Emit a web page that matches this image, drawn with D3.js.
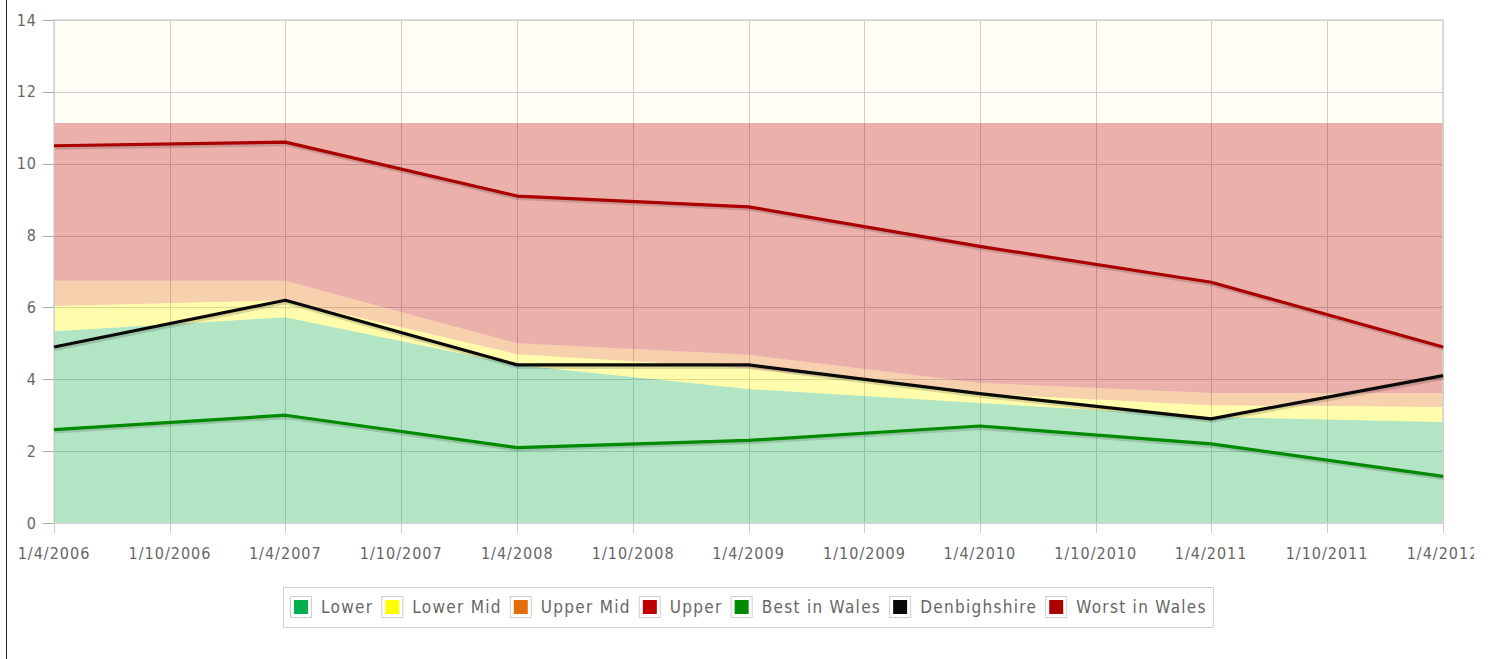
<!DOCTYPE html>
<html>
<head>
<meta charset="utf-8">
<script src="https://cdn.jsdelivr.net/npm/d3@7"></script>
<style>
  html, body { margin: 0; padding: 0; background: #fff; }
  #wrap { position: absolute; left: 0; top: 0; width: 1474px; height: 659px; overflow: hidden; }
  #edge { position: absolute; left: 6px; top: 0; width: 1px; height: 659px; background: #222; }
  text { font-family: "DejaVu Sans Condensed", "DejaVu Sans", sans-serif; fill: #666; }
</style>
</head>
<body>
<div id="wrap"></div>
<div id="edge"></div>
<script>
// dates of the data points (d/m/yyyy)
var dates = ["1/4/2006", "1/4/2007", "1/4/2008", "1/4/2009", "1/4/2010", "1/4/2011", "1/4/2012"];
var tickLabels = ["1/4/2006", "1/10/2006", "1/4/2007", "1/10/2007", "1/4/2008", "1/10/2008",
    "1/4/2009", "1/10/2009", "1/4/2010", "1/10/2010", "1/4/2011", "1/10/2011", "1/4/2012"];
var yTicks = [0, 2, 4, 6, 8, 10, 12, 14];

// stacked bands (each value is the band's own height)
var lower    = [5.34, 5.73, 4.40, 3.73, 3.34, 2.95, 2.81];
var lowerMid = [0.70, 0.47, 0.30, 0.58, 0.26, 0.33, 0.42];
var upperMid = [0.70, 0.54, 0.30, 0.37, 0.30, 0.34, 0.39];
var upper    = [4.39, 4.39, 6.13, 6.45, 7.23, 7.51, 7.51];

// lines
var best         = [2.6, 3.0, 2.1, 2.3, 2.7, 2.2, 1.3];
var denbighshire = [4.9, 6.2, 4.4, 4.4, 3.6, 2.9, 4.1];
var worst        = [10.5, 10.6, 9.1, 8.8, 7.7, 6.7, 4.9];

var bandNames = ["Lower", "Lower Mid", "Upper Mid", "Upper"];
var bandColors = ["#00b050", "#ffff00", "#e46c0a", "#c00000"];
var lineNames = ["Best in Wales", "Denbighshire", "Worst in Wales"];
var lineColors = ["#008a00", "#0a0a0a", "#aa0000"];

var parse = d3.timeParse("%d/%m/%Y");
var plotL = 54, plotR = 1443, plotT = 20, plotB = 523;

var svg = d3.select("#wrap").append("svg")
    .attr("width", 1474)
    .attr("height", 659);

var x = d3.scaleTime()
    .domain([parse(dates[0]), parse(dates[dates.length - 1])])
    .range([plotL, plotR]);
var y = d3.scaleLinear()
    .domain([0, 14])
    .range([plotB, plotT]);

// plot background
svg.append("rect")
    .attr("x", plotL).attr("y", plotT)
    .attr("width", plotR - plotL).attr("height", plotB - plotT)
    .attr("fill", "#fffdf5");

// grid
svg.append("g").selectAll("line")
    .data(tickLabels)
    .enter().append("line")
    .attr("x1", d => Math.round(x(parse(d))) + 0.5).attr("x2", d => Math.round(x(parse(d))) + 0.5)
    .attr("y1", plotT).attr("y2", plotB)
    .attr("stroke", "#cccccc");
svg.append("g").selectAll("line")
    .data(yTicks)
    .enter().append("line")
    .attr("x1", plotL).attr("x2", plotR)
    .attr("y1", d => Math.round(y(d)) + 0.5).attr("y2", d => Math.round(y(d)) + 0.5)
    .attr("stroke", "#cccccc");

// stacked areas
var table = dates.map((d, i) => ({
    date: parse(d), "Lower": lower[i], "Lower Mid": lowerMid[i],
    "Upper Mid": upperMid[i], "Upper": upper[i]
}));
var stacked = d3.stack().keys(bandNames)(table);
var area = d3.area()
    .x(d => x(d.data.date))
    .y0(d => y(d[0]))
    .y1(d => y(d[1]));
svg.append("g").selectAll("path")
    .data(stacked)
    .enter().append("path")
    .attr("d", area)
    .attr("fill", (d, i) => bandColors[i])
    .attr("fill-opacity", 0.3);

// plot border
svg.append("rect")
    .attr("x", plotL).attr("y", plotT)
    .attr("width", plotR - plotL).attr("height", plotB - plotT)
    .attr("fill", "none")
    .attr("stroke", "#d4d4d4")
    .attr("stroke-width", 1.5);

// lines with a soft shadow
var lineData = [best, denbighshire, worst];
var line = d3.line()
    .x((d, i) => x(parse(dates[i])))
    .y(d => y(d));
var lines = svg.append("g");
lineData.forEach(function (vals, k) {
    lines.append("path")
        .attr("d", line(vals))
        .attr("transform", "translate(1,1.5)")
        .attr("fill", "none")
        .attr("stroke", "#000")
        .attr("stroke-opacity", 0.15)
        .attr("stroke-width", 5)
        .attr("stroke-linejoin", "round");
    lines.append("path")
        .attr("d", line(vals))
        .attr("fill", "none")
        .attr("stroke", lineColors[k])
        .attr("stroke-width", 3.2)
        .attr("stroke-linejoin", "round");
});

// y axis
var yAxis = svg.append("g");
yAxis.selectAll("line")
    .data(yTicks)
    .enter().append("line")
    .attr("x1", plotL - 11).attr("x2", plotL)
    .attr("y1", d => Math.round(y(d)) + 0.5).attr("y2", d => Math.round(y(d)) + 0.5)
    .attr("stroke", "#aaa");
yAxis.selectAll("text")
    .data(yTicks)
    .enter().append("text")
    .attr("x", 37).attr("y", d => y(d))
    .attr("dy", "0.35em")
    .attr("text-anchor", "end")
    .attr("font-size", 16)
    .attr("letter-spacing", 1)
    .text(d => d);

// x axis
var xAxis = svg.append("g");
xAxis.selectAll("line")
    .data(tickLabels)
    .enter().append("line")
    .attr("x1", d => Math.round(x(parse(d))) + 0.5).attr("x2", d => Math.round(x(parse(d))) + 0.5)
    .attr("y1", plotB).attr("y2", plotB + 10)
    .attr("stroke", "#ccc");
xAxis.selectAll("text")
    .data(tickLabels)
    .enter().append("text")
    .attr("x", d => x(parse(d))).attr("y", 559)
    .attr("text-anchor", "middle")
    .attr("font-size", 16)
    .attr("letter-spacing", 1)
    .text(d => d);

// legend
var legendItems = bandNames.map((n, i) => ({ name: n, color: bandColors[i] }))
    .concat(lineNames.map((n, i) => ({ name: n, color: lineColors[i] })));
var legend = svg.append("g");
var legendBox = legend.append("rect")
    .attr("y", 587.5).attr("height", 40)
    .attr("fill", "#fff")
    .attr("stroke", "#d0d0d0");
var lx = 290;
legendItems.forEach(function (it) {
    legend.append("rect")
        .attr("x", lx + 0.5).attr("y", 596.5)
        .attr("width", 21).attr("height", 21)
        .attr("fill", "#fff").attr("stroke", "#cfcfcf");
    legend.append("rect")
        .attr("x", lx + 4).attr("y", 600)
        .attr("width", 14).attr("height", 14)
        .attr("fill", it.color);
    var t = legend.append("text")
        .attr("x", lx + 31).attr("y", 613)
        .attr("font-size", 17)
        .attr("letter-spacing", 1.3)
        .text(it.name);
    lx += 31 + t.node().getComputedTextLength() + 8;
});
legendBox.attr("x", 283.5).attr("width", lx - 283 - 2);
</script>
</body>
</html>
